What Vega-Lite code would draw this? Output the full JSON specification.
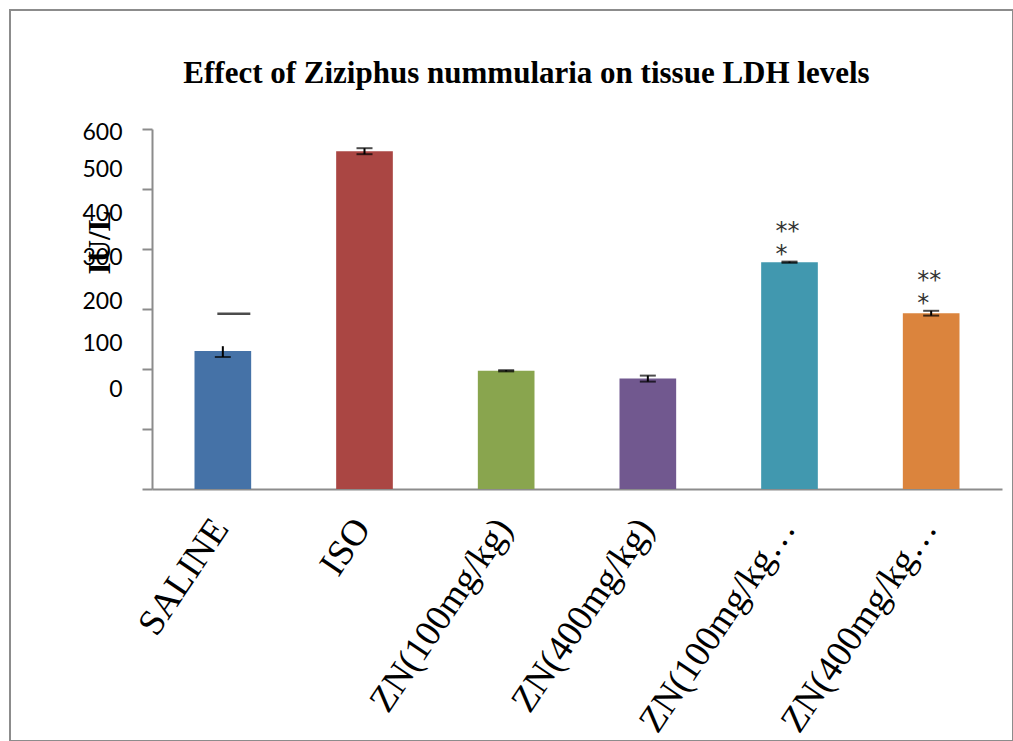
{
  "$schema": "https://vega.github.io/schema/vega-lite/v6.json",
  "width": 1003,
  "height": 731,
  "autosize": {"type": "none"},
  "padding": {"left": 10, "top": 10, "right": 0, "bottom": 0},
  "background": "white",
  "config": {"view": {"stroke": "#8c8c8c", "strokeWidth": 2}},
  "title": {
    "text": "Effect of Ziziphus nummularia on tissue LDH levels",
    "font": "Liberation Serif",
    "fontSize": 31,
    "fontWeight": "bold",
    "color": "black",
    "anchor": "middle",
    "frame": "group",
    "baseline": "alphabetic",
    "offset": -104,
    "dx": 15
  },
  "data": {
    "values": [
      {"group": "SALINE", "mean": 230, "lo": 220, "hi": 238, "sig": ""},
      {"group": "ISO", "mean": 563, "lo": 558, "hi": 568, "sig": ""},
      {"group": "ZN(100mg/kg)", "mean": 197, "lo": 196, "hi": 198, "sig": ""},
      {"group": "ZN(400mg/kg)", "mean": 184, "lo": 179, "hi": 189, "sig": ""},
      {"group": "ZN(100mg/kg)+ISO", "mean": 378, "lo": 377, "hi": 379, "sig": "**\n*"},
      {"group": "ZN(400mg/kg)+ISO", "mean": 293, "lo": 289, "hi": 297, "sig": "**\n*"}
    ]
  },
  "layer": [
    {
      "mark": {"type": "bar"},
      "encoding": {
        "x": {
          "field": "group",
          "type": "nominal",
          "sort": null,
          "scale": {"range": [142, 992], "paddingInner": 0.6, "paddingOuter": 0.3},
          "axis": {
            "orient": "bottom",
            "offset": -252,
            "title": null,
            "ticks": false,
            "domainColor": "#8c8c8c",
            "domainWidth": 2,
            "labelAngle": -56,
            "labelFont": "Liberation Serif",
            "labelFontSize": 37,
            "labelColor": "black",
            "labelPadding": 33,
            "labelOffset": -2,
            "labelLimit": 0,
            "labelOverlap": false,
            "labelExpr": "length(datum.label) > 12 ? slice(datum.label, 0, 11) + '…' : datum.label"
          }
        },
        "y": {
          "field": "mean",
          "type": "quantitative",
          "scale": {"domain": [0, 600], "range": [479, 119], "nice": false, "zero": true},
          "axis": {
            "orient": "left",
            "offset": -142,
            "title": "IU/L",
            "titleFont": "Liberation Serif",
            "titleFontSize": 31,
            "titleFontWeight": "bold",
            "titleColor": "black",
            "titleX": -52,
            "titleY": 232,
            "titleAngle": -90,
            "titleAlign": "center",
            "titleBaseline": "middle",
            "values": [0, 100, 200, 300, 400, 500, 600],
            "grid": false,
            "domainColor": "#8c8c8c",
            "domainWidth": 2,
            "tickColor": "#8c8c8c",
            "tickWidth": 2,
            "tickSize": 10,
            "labelFont": "Lato",
            "labelFontSize": 23,
            "labelColor": "black",
            "labelPadding": 20,
            "labelOffset": {
              "condition": [
                {"test": "datum.value == 0", "value": -100},
                {"test": "datum.value == 100", "value": -86},
                {"test": "datum.value == 200", "value": -68},
                {"test": "datum.value == 300", "value": -52},
                {"test": "datum.value == 400", "value": -36},
                {"test": "datum.value == 500", "value": -20}
              ],
              "value": 3
            }
          }
        },
        "color": {
          "field": "group",
          "type": "nominal",
          "sort": null,
          "scale": {"range": ["#4572A7", "#AA4643", "#89A54E", "#71588F", "#4198AF", "#DB843D"]},
          "legend": null
        }
      }
    },
    {
      "mark": {"type": "rule", "color": "black", "strokeWidth": 2},
      "encoding": {
        "x": {"field": "group", "type": "nominal", "sort": null},
        "y": {"field": "lo", "type": "quantitative"},
        "y2": {"field": "hi"}
      }
    },
    {
      "mark": {"type": "tick", "color": "black", "thickness": 2, "size": 16},
      "encoding": {
        "x": {"field": "group", "type": "nominal", "sort": null},
        "y": {"field": "lo", "type": "quantitative"}
      }
    },
    {
      "transform": [{"filter": "datum.group != 'SALINE'"}],
      "mark": {"type": "tick", "color": "black", "thickness": 2, "size": 16},
      "encoding": {
        "x": {"field": "group", "type": "nominal", "sort": null},
        "y": {"field": "hi", "type": "quantitative"}
      }
    },
    {
      "data": {"values": [{"group": "SALINE", "stray": 292}]},
      "mark": {"type": "tick", "color": "black", "thickness": 2.5, "size": 33, "xOffset": 11},
      "encoding": {
        "x": {"field": "group", "type": "nominal", "sort": null},
        "y": {"field": "stray", "type": "quantitative"}
      }
    },
    {
      "transform": [{"filter": "datum.sig != ''"}],
      "mark": {
        "type": "text",
        "align": "left",
        "baseline": "bottom",
        "dx": -14,
        "dy": -18,
        "font": "DejaVu Sans",
        "fontSize": 24,
        "lineBreak": "\n",
        "lineHeight": 23,
        "color": "#333333"
      },
      "encoding": {
        "x": {"field": "group", "type": "nominal", "sort": null},
        "y": {"field": "hi", "type": "quantitative"},
        "text": {"field": "sig"}
      }
    }
  ]
}
